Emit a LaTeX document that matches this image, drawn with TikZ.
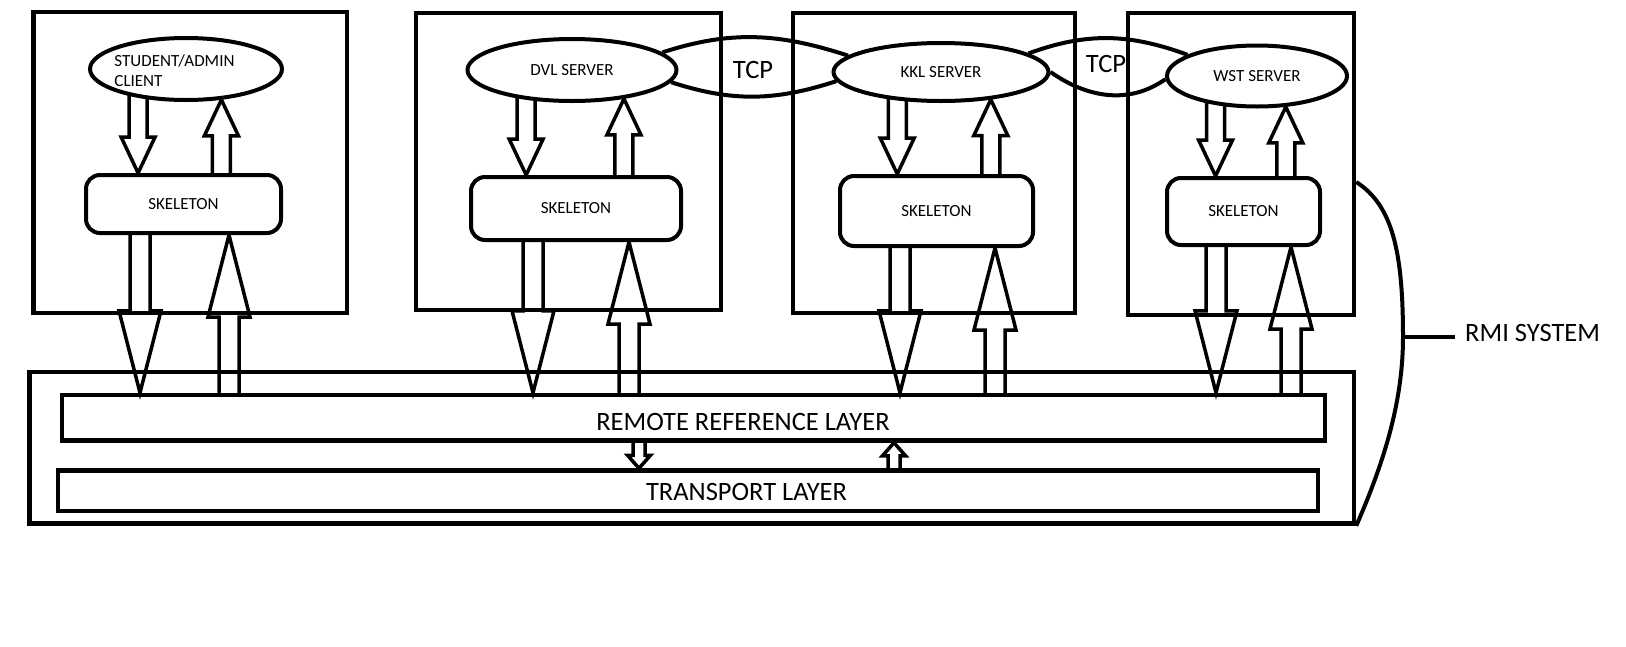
\documentclass[tikz,border=0pt]{standalone}
\usepackage{fontspec}
\setmainfont{Carlito}
\usetikzlibrary{shapes.geometric,calc,backgrounds}

\tikzset{
	frame/.style={draw, line width=4.5pt, inner sep=0pt},
	srv/.style={draw, ellipse, line width=4pt, fill=white, inner sep=0pt, font=\fontsize{17}{20}\selectfont},
	srvlbl/.style={inner sep=0pt, font=\fontsize{17}{20}\selectfont},
	skel/.style={draw, rounded corners=14pt, line width=4pt, fill=white, inner sep=0pt, font=\fontsize{17}{20}\selectfont},
	bigtext/.style={inner sep=0pt, font=\fontsize{26.5}{30}\selectfont},
	curve/.style={line width=4pt},
	tip to/.style n args={3}{line width=3.5pt, to path={let \p1=(\tikztostart), \p2=(\tikztotarget),
		\n1={\y1>\y2 ? \y2+#3 : \y2-#3} in
		(\x1-#1pt,\y1) -- (\x1-#1pt,{\n1+0pt}) -- (\x1-#2pt,{\n1+0pt}) -- (\x1,\y2)
		-- (\x1+#2pt,{\n1+0pt}) -- (\x1+#1pt,{\n1+0pt}) -- (\x1+#1pt,\y1)}},
	tip from/.style n args={3}{line width=3.5pt, to path={let \p1=(\tikztostart), \p2=(\tikztotarget),
		\n1={\y2>\y1 ? \y1+#3 : \y1-#3} in
		(\x1-#1pt,\y2) -- (\x1-#1pt,{\n1+0pt}) -- (\x1-#2pt,{\n1+0pt}) -- (\x1,\y1)
		-- (\x1+#2pt,{\n1+0pt}) -- (\x1+#1pt,{\n1+0pt}) -- (\x1+#1pt,\y2)}},
	smalldn/.style={tip to={9}{17}{36}},
	smallup/.style={tip from={9}{17}{36}},
	bigdn/.style={tip to={10}{21}{82}},
	bigup/.style={tip from={10}{21}{82}},
	tinydn/.style={tip to={6}{11.5}{13}},
	tinyup/.style={tip from={6}{11.5}{13}},
}

\begin{document}
\begin{tikzpicture}[x=1pt, y=-1pt]
	\useasboundingbox (0,0) rectangle (1626,646);

	\node[frame, minimum width=313.5pt, minimum height=301pt] (b1) at (190.25,162.5) {};
	\node[frame, minimum width=305pt, minimum height=297pt] (b2) at (568.5,161.5) {};
	\node[frame, minimum width=282pt, minimum height=300pt] (b3) at (934,163) {};
	\node[frame, minimum width=226pt, minimum height=302pt] (b4) at (1241,164) {};
	\node[frame, minimum width=1324.5pt, minimum height=151.5pt] (sys) at (691.75,447.75) {};
	\node[frame, minimum width=1263pt, minimum height=45.5pt] (rrl) at (693.5,417.75) {};
	\node[frame, minimum width=1260pt, minimum height=40.5pt] (tl) at (688,490.75) {};
	\node[bigtext] (rrltxt) at (743,422) {REMOTE REFERENCE LAYER};
	\node[bigtext] (tltxt) at (746.5,492) {TRANSPORT LAYER};

	\node[srv, minimum width=192pt, minimum height=62pt,
		label={[srvlbl, align=left, xshift=-11.5pt, yshift=-2pt]center:STUDENT/ADMIN\\CLIENT}] (e1) at (186,69) {};
	\node[srv, minimum width=209pt, minimum height=62pt] (e2) at (572,70) {DVL SERVER};
	\node[srv, minimum width=215pt, minimum height=58pt] (e3) at (941,72) {KKL SERVER};
	\node[srv, minimum width=180pt, minimum height=61pt] (e4) at (1257,76) {WST SERVER};

	\node[skel, minimum width=195pt, minimum height=58pt] (s1) at (183.5,204) {SKELETON};
	\node[skel, minimum width=210pt, minimum height=63pt] (s2) at (576,208.5) {SKELETON};
	\node[skel, minimum width=193pt, minimum height=70pt] (s3) at (936.5,211) {SKELETON};
	\node[skel, minimum width=153pt, minimum height=67pt] (s4) at (1243.5,211.5) {SKELETON};

	\begin{scope}[on background layer]
		\draw[smalldn] ([yshift=5pt]e1.-149) to (s1.north);
		\draw[smallup] (e1.-41) to (s1.north);
		\draw[smalldn] ([yshift=5pt]e2.-147) to (s2.north);
		\draw[smallup] (e2.-29) to (s2.north);
		\draw[smalldn] ([yshift=5pt]e3.-147) to (s3.north);
		\draw[smallup] (e3.-29) to (s3.north);
		\draw[smalldn] ([yshift=5pt]e4.-145) to (s4.north);
		\draw[smallup] (e4.-47) to (s4.north);

		\draw[bigdn] ([xshift=-43.5pt]s1.south) to (rrl.north);
		\draw[bigup] ([xshift=45.5pt]s1.south) to (rrl.north);
		\draw[bigdn] ([xshift=-43pt]s2.south) to (rrl.north);
		\draw[bigup] ([xshift=53pt]s2.south) to (rrl.north);
		\draw[bigdn] ([xshift=-36.5pt]s3.south) to (rrl.north);
		\draw[bigup] ([xshift=58.5pt]s3.south) to (rrl.north);
		\draw[bigdn] ([xshift=-27.5pt]s4.south) to (rrl.north);
		\draw[bigup] ([xshift=47.5pt]s4.south) to (rrl.north);

		\draw[tinydn] ([xshift=-54.5pt]rrl.south) to (tl.north);
		\draw[tinyup] ([xshift=200.5pt]rrl.south) to (tl.north);
	\end{scope}

	\draw[curve] (e2.11) to[out=18, in=162] (e3.170);
	\draw[curve] (e2.-7) to[out=-18, in=-162] (e3.185);
	\node[bigtext] (tcp1) at (753,70) {TCP};
	\draw[curve] (e3.12) to[out=20, in=160] (e4.163);
	\draw[curve] (e3.0) to[out=-35, in=-145] (e4.182);
	\node[bigtext] (tcp2) at (1106,64) {TCP};

	\coordinate (rmi) at (1403,337);
	\draw[curve] ([yshift=-18pt]b4.east) .. controls (1392,205) and (1403,250) .. (rmi)
		.. controls (1403,400) and (1385,460) .. (sys.south east);
	\node[bigtext, anchor=west, inner xsep=10pt] (rmilbl) at (1455,333) {RMI SYSTEM};
	\draw[curve] (rmi) -- (rmi -| rmilbl.west);
\end{tikzpicture}
\end{document}
